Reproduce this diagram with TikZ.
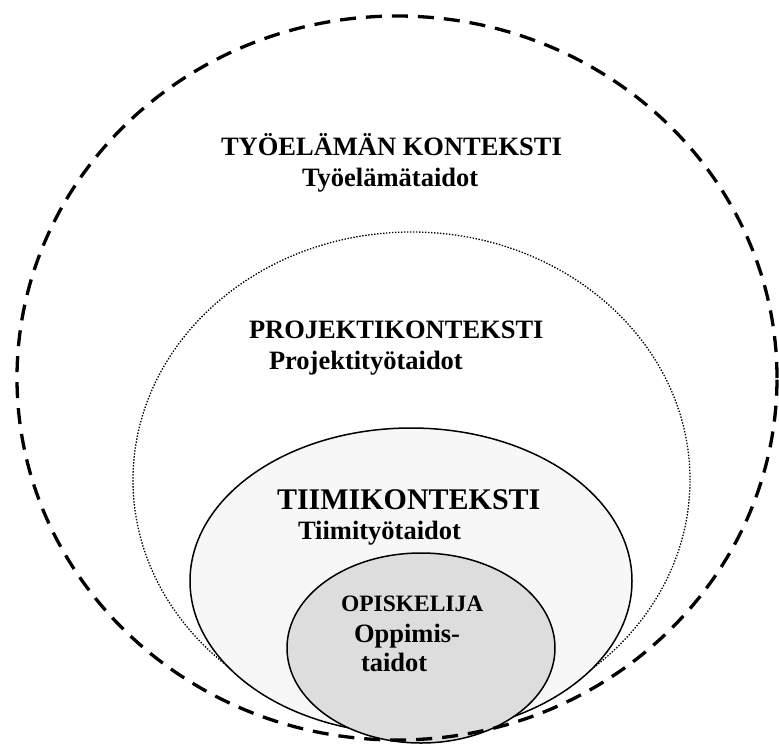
\documentclass[tikz,border=0pt]{standalone}
\usepackage{fontspec}
\setmainfont{Liberation Serif}
\usetikzlibrary{shapes.geometric}
\definecolor{teamfill}{HTML}{F7F7F7}
\definecolor{studentfill}{HTML}{DDDDDD}
\tikzset{
  ring/.style={ellipse, inner sep=0pt, outer sep=0pt},
  worklife/.style={ring, draw=black, line width=3.3pt, dash pattern=on 16pt off 10pt},
  project/.style={ring, draw=black, line width=1.3pt, dash pattern=on 1.4pt off 1.6pt},
  team/.style={ring, draw=black, line width=1.5pt, fill=teamfill},
  student/.style={ring, draw=black, line width=1.5pt, fill=studentfill},
  lbl/.style={anchor=base west, inner sep=0pt, outer sep=0pt, font=\bfseries\fontsize{26.5}{30}\selectfont},
  biglbl/.style={lbl, font=\bfseries\fontsize{30}{34}\selectfont},
  smalllbl/.style={lbl, font=\bfseries\fontsize{23.5}{27}\selectfont}
}
\begin{document}
\begin{tikzpicture}[x=1pt, y=-1pt]
  \useasboundingbox (0,0) rectangle (779,744);
  % nested contexts, outermost first
  \node[project, minimum width=557pt, minimum height=496pt] (proj) at (411.5,480) {};
  \node[team, minimum width=442pt, minimum height=306pt] (tiimi) at (411,581) {};
  \node[student, minimum width=268pt, minimum height=190pt] (opis) at (421,648) {};
  \node[worklife, minimum width=760pt, minimum height=724pt] (tyo) at (397,378) {};
  % labels
  \node[lbl] (t1) at (221,155) {TYÖELÄMÄN KONTEKSTI};
  \node[lbl] (t2) at (302,186) {Työelämätaidot};
  \node[lbl] (p1) at (249,338) {PROJEKTIKONTEKSTI};
  \node[lbl] (p2) at (269,369) {Projektityötaidot};
  \node[biglbl] (k1) at (277,509) {TIIMIKONTEKSTI};
  \node[lbl] (k2) at (298,539) {Tiimityötaidot};
  \node[smalllbl] (o1) at (341,611) {OPISKELIJA};
  \node[lbl] (o2) at (354,642) {Oppimis-};
  \node[lbl] (o3) at (361,671) {taidot};
\end{tikzpicture}
\end{document}
